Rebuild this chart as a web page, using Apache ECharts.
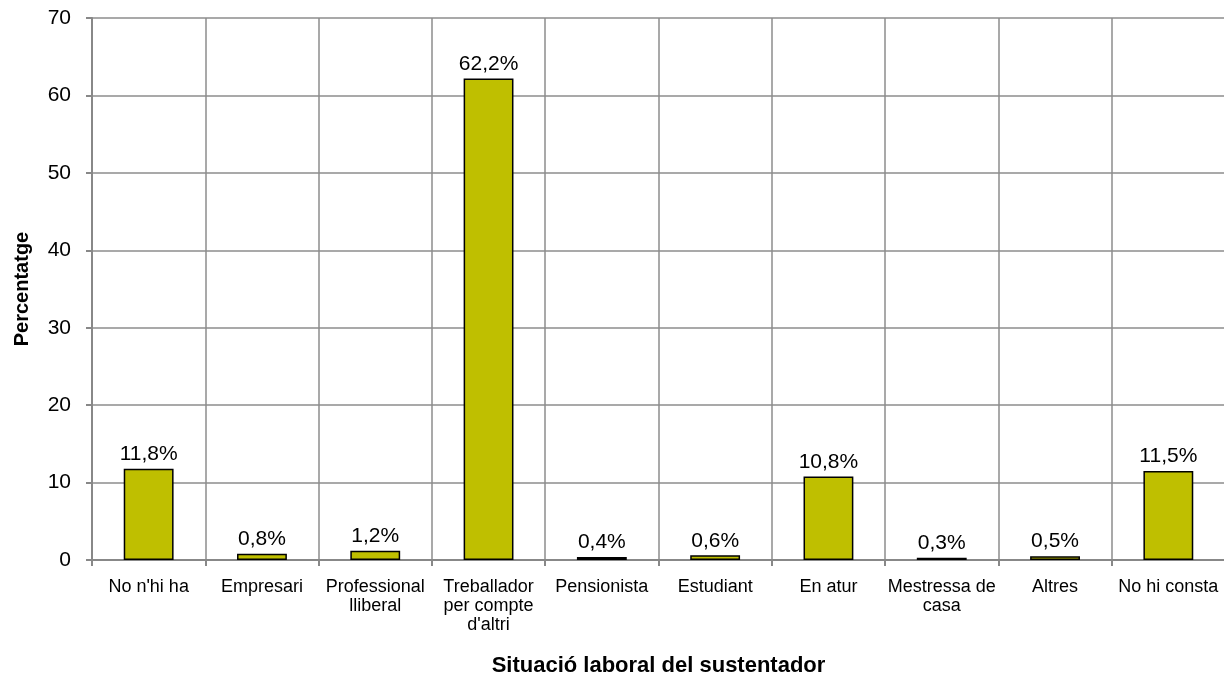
<!DOCTYPE html>
<html><head><meta charset="utf-8">
<script src="https://cdn.jsdelivr.net/npm/echarts@6/dist/echarts.min.js"></script>
<style>html,body{margin:0;padding:0;background:#fff}#c{width:1224px;height:682px}</style>
</head><body><div id="c"></div>
<script>
var categories = ["No n'hi ha", "Empresari", "Professional\nlliberal", "Treballador\nper compte\nd'altri", "Pensionista", "Estudiant", "En atur", "Mestressa de\ncasa", "Altres", "No hi consta"];
var values = [11.8, 0.8, 1.2, 62.2, 0.4, 0.6, 10.8, 0.3, 0.5, 11.5];
var yTicks = [0, 10, 20, 30, 40, 50, 60, 70];
var xTitle = "Situació laboral del sustentador";
var yTitle = "Percentatge";

var chart = echarts.init(document.getElementById('c'), null, {renderer: 'canvas'});
var font = 'Liberation Sans, Arial, sans-serif';
chart.setOption({
  animation: false,
  textStyle: {fontFamily: font},
  grid: {left: 92, right: -1, top: 18, bottom: 122, containLabel: false, outerBoundsMode: 'none'},
  xAxis: {
    type: 'category', data: categories,
    name: xTitle, nameLocation: 'middle', nameGap: 95,
    nameTextStyle: {fontFamily: font, fontWeight: 'bold', fontSize: 22, color: '#000'},
    axisLine: {show: true, lineStyle: {color: '#888', width: 2}},
    axisTick: {show: true, length: 6, lineStyle: {color: '#888', width: 2}},
    axisLabel: {color: '#000', fontSize: 18, fontFamily: font, margin: 18, lineHeight: 19, interval: 0},
    splitLine: {show: true, lineStyle: {color: '#8c8c8c', width: 1.5}}
  },
  yAxis: {
    type: 'value', min: yTicks[0], max: yTicks[yTicks.length - 1], interval: 10,
    name: yTitle, nameLocation: 'middle', nameGap: 60, nameRotate: 90,
    nameTextStyle: {fontFamily: font, fontWeight: 'bold', fontSize: 20, color: '#000'},
    axisLine: {show: true, lineStyle: {color: '#888', width: 2}},
    axisTick: {show: true, length: 6, lineStyle: {color: '#888', width: 2}},
    axisLabel: {color: '#000', fontSize: 21, fontFamily: font, margin: 21},
    splitLine: {show: true, lineStyle: {color: '#8c8c8c', width: 1.5}}
  },
  series: [{
    type: 'bar', data: values, barWidth: '44%',
    itemStyle: {color: '#BFBF00', borderColor: '#000', borderWidth: 1.5},
    label: {show: true, position: 'top', distance: 4, color: '#000', fontSize: 21, fontFamily: font,
      formatter: function (p) { return p.value.toFixed(1).replace('.', ',') + '%'; }}
  }]
});
</script></body></html>
